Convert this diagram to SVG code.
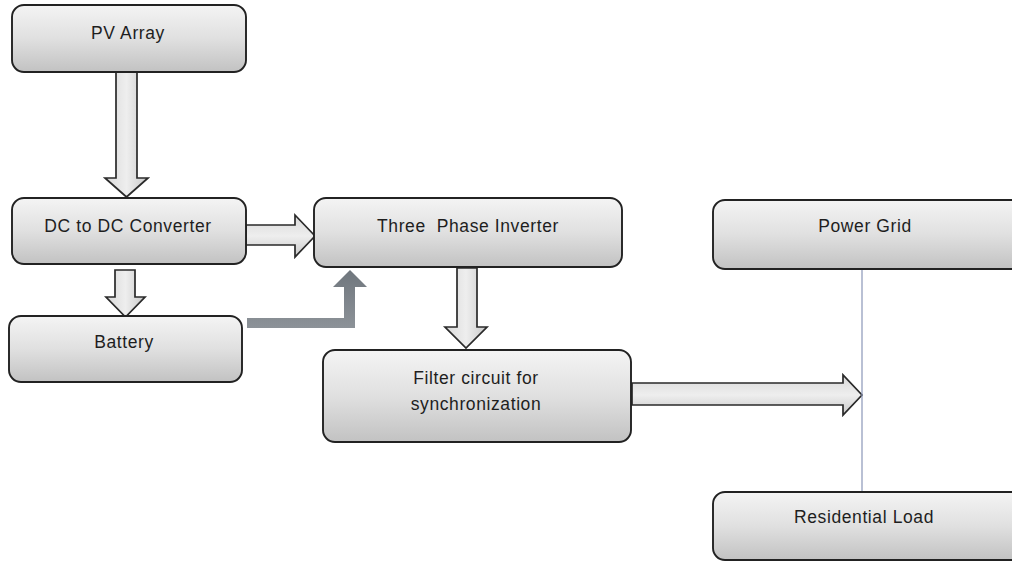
<svg xmlns="http://www.w3.org/2000/svg" width="1012" height="563" viewBox="0 0 1012 563">
<defs>
<linearGradient id="boxg" x1="0" y1="0" x2="0" y2="1">
<stop offset="0" stop-color="#f4f4f4"/>
<stop offset="0.5" stop-color="#e0e0e0"/>
<stop offset="1" stop-color="#c2c2c2"/>
</linearGradient>
<linearGradient id="arrg" x1="0" y1="0" x2="1" y2="0">
<stop offset="0" stop-color="#d8d8d8"/>
<stop offset="0.5" stop-color="#eeeeee"/>
<stop offset="1" stop-color="#c8c8c8"/>
</linearGradient>
<linearGradient id="arrh" x1="0" y1="0" x2="0" y2="1">
<stop offset="0" stop-color="#d8d8d8"/>
<stop offset="0.5" stop-color="#eeeeee"/>
<stop offset="1" stop-color="#c8c8c8"/>
</linearGradient>
<linearGradient id="batg" x1="0" y1="0" x2="0" y2="1">
<stop offset="0" stop-color="#6f767d"/>
<stop offset="1" stop-color="#8c9298"/>
</linearGradient>
</defs>
<style>
.box{fill:url(#boxg);stroke:#222;stroke-width:1.9}
.lbl{font-family:"Liberation Sans",Arial,sans-serif;font-size:17.5px;letter-spacing:0.6px;fill:#1e1e1e;text-anchor:middle}
.av{fill:url(#arrg);stroke:#2a2a2a;stroke-width:1.7;stroke-linejoin:miter}
.ah{fill:url(#arrh);stroke:#2a2a2a;stroke-width:1.7;stroke-linejoin:miter}
</style>
<rect width="1012" height="563" fill="#ffffff"/>
<g id="connectors">
<polygon class="av" points="116,72 137,72 137,178 148,178 126.5,197 105,178 116,178"/>
<polygon class="av" points="115,270 135,270 135,297 145,297 125.5,317 106,297 115,297"/>
<polygon class="ah" points="246,225 295,225 295,215 315,236 295,257 295,245 246,245"/>
<polygon class="av" points="457,268 477,268 477,327 487,327 466,348 445,327 457,327"/>
<polygon class="ah" points="632,383 843,383 843,375 862,395 843,415 843,405 632,405"/>
<path d="M247,318 L344,318 L344,287 L333,287 L350,270 L367,287 L355,287 L355,328 L247,328 Z" fill="url(#batg)"/>
<line x1="862" y1="269" x2="862" y2="492" stroke="#8a96b8" stroke-width="1.2"/>
</g>
<g id="pv-array">
<rect class="box" x="12" y="5" width="234" height="67" rx="12"/>
<text class="lbl" x="128" y="39">PV Array</text>
</g>
<g id="dc-dc-converter">
<rect class="box" x="12" y="198" width="234" height="66" rx="12"/>
<text class="lbl" x="128" y="232">DC to DC Converter</text>
</g>
<g id="battery">
<rect class="box" x="9" y="316" width="233" height="66" rx="12"/>
<text class="lbl" x="124" y="348">Battery</text>
</g>
<g id="three-phase-inverter">
<rect class="box" x="314" y="198" width="308" height="69" rx="12"/>
<text class="lbl" x="468" y="232" xml:space="preserve">Three  Phase Inverter</text>
</g>
<g id="filter-circuit">
<rect class="box" x="323" y="350" width="308" height="92" rx="12"/>
<text class="lbl" x="476" y="384">Filter circuit for</text>
<text class="lbl" x="476" y="410">synchronization</text>
</g>
<g id="power-grid">
<rect class="box" x="713" y="200" width="310" height="69" rx="12"/>
<text class="lbl" x="865" y="232">Power Grid</text>
</g>
<g id="residential-load">
<rect class="box" x="713" y="492" width="310" height="68" rx="12"/>
<text class="lbl" x="864" y="523">Residential Load</text>
</g>
</svg>
